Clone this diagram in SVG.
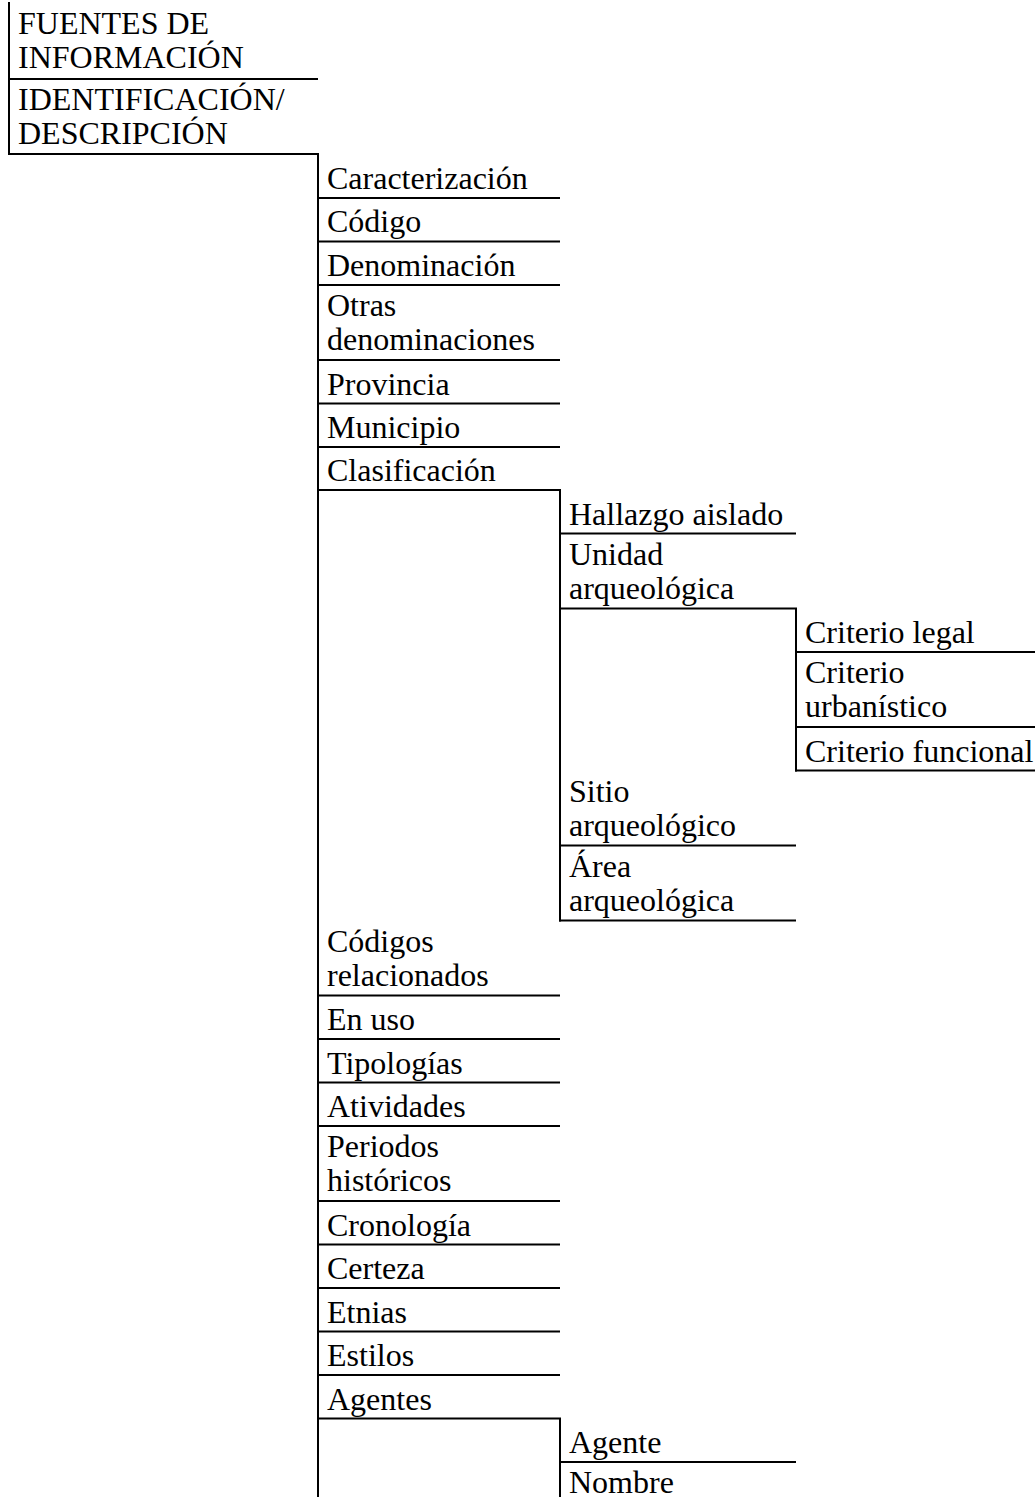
<svg xmlns="http://www.w3.org/2000/svg" width="1035" height="1497" viewBox="0 0 1035 1497">
<style>
text{font-family:"Liberation Serif","Times New Roman",serif;font-size:32px;fill:#000}
line{stroke:#000;stroke-width:2}
</style>
<rect width="1035" height="1497" fill="#fff"/>
<g id="connectors">
<line x1="9" y1="2" x2="9" y2="155"/>
<line x1="318" y1="154" x2="318" y2="1497"/>
<line x1="560" y1="490" x2="560" y2="921.5"/>
<line x1="796" y1="608.5" x2="796" y2="771.5"/>
<line x1="560" y1="1418.5" x2="560" y2="1497"/>
</g>
<g id="n-fuentes"><text x="18" y="34">FUENTES DE</text><text x="18" y="68">INFORMACIÓN</text><line x1="9" y1="79" x2="318" y2="79"/></g>
<g id="n-identificacion"><text x="18" y="110">IDENTIFICACIÓN/</text><text x="18" y="144">DESCRIPCIÓN</text><line x1="8" y1="154" x2="319" y2="154"/></g>
<g id="n-caracterizacion"><text x="327" y="189">Caracterización</text><line x1="318" y1="198" x2="560" y2="198"/></g>
<g id="n-codigo"><text x="327" y="232">Código</text><line x1="318" y1="241.5" x2="560" y2="241.5"/></g>
<g id="n-denominacion"><text x="327" y="276">Denominación</text><line x1="318" y1="285" x2="560" y2="285"/></g>
<g id="n-otras"><text x="327" y="316">Otras</text><text x="327" y="350">denominaciones</text><line x1="318" y1="360" x2="560" y2="360"/></g>
<g id="n-provincia"><text x="327" y="394.5">Provincia</text><line x1="318" y1="403.5" x2="560" y2="403.5"/></g>
<g id="n-municipio"><text x="327" y="438">Municipio</text><line x1="318" y1="447" x2="560" y2="447"/></g>
<g id="n-clasificacion"><text x="327" y="481">Clasificación</text><line x1="318" y1="490" x2="561" y2="490"/></g>
<g id="n-hallazgo"><text x="569" y="524.5">Hallazgo aislado</text><line x1="560" y1="533.5" x2="796" y2="533.5"/></g>
<g id="n-unidad"><text x="569" y="564.5">Unidad</text><text x="569" y="598.5">arqueológica</text><line x1="560" y1="608.5" x2="797" y2="608.5"/></g>
<g id="n-legal"><text x="805" y="643">Criterio legal</text><line x1="796" y1="652" x2="1035" y2="652"/></g>
<g id="n-urbanistico"><text x="805" y="683">Criterio</text><text x="805" y="717">urbanístico</text><line x1="796" y1="727" x2="1035" y2="727"/></g>
<g id="n-funcional"><text x="805" y="761.5">Criterio funcional</text><line x1="795" y1="770.5" x2="1035" y2="770.5"/></g>
<g id="n-sitio"><text x="569" y="801.5">Sitio</text><text x="569" y="835.5">arqueológico</text><line x1="560" y1="845.5" x2="796" y2="845.5"/></g>
<g id="n-area"><text x="569" y="876.5">Área</text><text x="569" y="910.5">arqueológica</text><line x1="559" y1="920.5" x2="796" y2="920.5"/></g>
<g id="n-codigos-rel"><text x="327" y="951.5">Códigos</text><text x="327" y="985.5">relacionados</text><line x1="318" y1="995.5" x2="560" y2="995.5"/></g>
<g id="n-enuso"><text x="327" y="1030">En uso</text><line x1="318" y1="1039" x2="560" y2="1039"/></g>
<g id="n-tipologias"><text x="327" y="1073.5">Tipologías</text><line x1="318" y1="1082.5" x2="560" y2="1082.5"/></g>
<g id="n-atividades"><text x="327" y="1117">Atividades</text><line x1="318" y1="1126" x2="560" y2="1126"/></g>
<g id="n-periodos"><text x="327" y="1157">Periodos</text><text x="327" y="1191">históricos</text><line x1="318" y1="1201" x2="560" y2="1201"/></g>
<g id="n-cronologia"><text x="327" y="1235.5">Cronología</text><line x1="318" y1="1244.5" x2="560" y2="1244.5"/></g>
<g id="n-certeza"><text x="327" y="1279">Certeza</text><line x1="318" y1="1288" x2="560" y2="1288"/></g>
<g id="n-etnias"><text x="327" y="1322.5">Etnias</text><line x1="318" y1="1331.5" x2="560" y2="1331.5"/></g>
<g id="n-estilos"><text x="327" y="1366">Estilos</text><line x1="318" y1="1375" x2="560" y2="1375"/></g>
<g id="n-agentes"><text x="327" y="1409.5">Agentes</text><line x1="318" y1="1418.5" x2="561" y2="1418.5"/></g>
<g id="n-agente"><text x="569" y="1453">Agente</text><line x1="560" y1="1462" x2="796" y2="1462"/></g>
<g id="n-nombre"><text x="569" y="1493">Nombre</text></g>
</svg>
